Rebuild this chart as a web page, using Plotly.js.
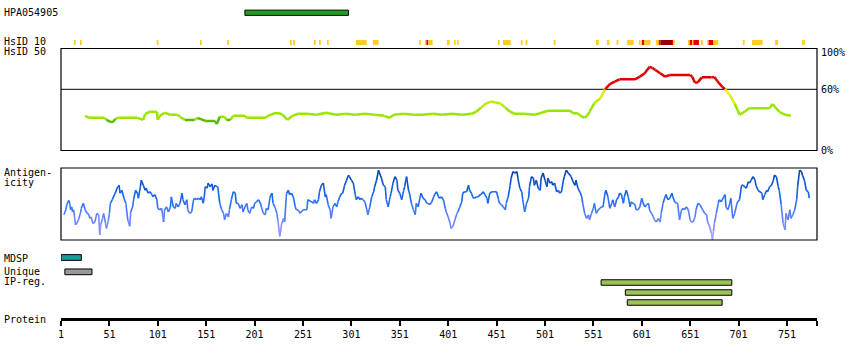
<!DOCTYPE html>
<html><head><meta charset="utf-8">
<script src="https://cdn.plot.ly/plotly-3.0.1.min.js"></script>
<style>html,body{margin:0;padding:0;background:#fff}#chart{width:850px;height:360px}</style>
</head><body><div id="chart"></div>
<script>
// ---------------- data ----------------
const proteinLength = 782;
const tickResidues = [1,51,101,151,201,251,301,351,401,451,501,551,601,651,701,751];

const hpaName = ['HPA054905'];
const hpaStart = [191];
const hpaEnd = [298];

const hsid10Start = [14.4,20.6,100,144.6,172.5,237.6,240.7,262.4,267.5,275.8,
  305.7,323.3,370.8,377,378.5,380.5,399.7,406.9,410,452.4,
  457.6,476,481,510,553.7,565,575,585.7,598,601,
  603.6,615.6,618.5,620.5,632.2,633.5,648.7,650.5,653.2,654.3,
  662,668.5,670,675,705.5,714.8,738.7,766.5];
const hsid10End = [16.2,22.4,101.8,146.4,174.3,239.4,242.5,264.2,269.3,277.6,
  316.8,329.2,372.6,378.5,380.5,385,402.5,408.7,411.8,454.2,
  465.6,477.8,482.9,511.8,556.5,567.6,576.8,592.6,599.8,603.6,
  610,618.5,620.5,632.2,633.5,635.2,650.5,653.2,654.3,660,
  664,670,675,680,707.3,725.9,741.8,769.3];
const hsid10Level = [1,1,1,1,1,1,1,1,1,1,
  1,1,1,1,2,1,1,1,1,1,
  1,1,1,1,1,1,1,1,1,2,
  1,1,2,3,2,1,1,2,1,2,
  1,1,2,1,1,1,1,1];

const hsid50Residue = [26,30,41,46,48,52,55,57,60,67,
  80,86,88,93,100,101,103,108,114,121,
  124,129,139,142,150,160,162,165,170,172,
  176,179,191,193,212,215,221,227,230,235,
  240,246,255,265,275,285,295,305,315,325,
  335,340,345,355,365,375,385,395,405,415,
  425,430,435,440,445,450,455,460,465,470,
  480,490,496,504,527,530,535,537,542,545,
  547,552,558,563,568,573,578,594,599,604,
  609,612,615,620,625,630,651,653,656,659,
  663,673,676,679,684,687,692,697,702,707,
  712,733,736,743,749,755];
const hsid50Value = [34,32,32,32,30,28,28,31,32,32,
  32,30,36,38,38,30,34,37,35,35,
  33,30,30,32,29,29,26,33,33,30,
  30,34,34,32,32,34,36.5,36.5,35,30,
  34,36,36,35,37,35,36,35,36,35,
  34,32,35,36,35,35,36,35,36,35,
  36,38,42,46,48,47,46,42,38,36,
  36,35,36.5,39,39,36.5,36.5,34.5,32,34.5,
  38,46.5,51,60,65,67.5,69.8,69.8,72.4,75.7,
  82,81,79,75.7,72.4,74,74,72.4,66.5,67,
  71.7,71.7,72,68,62.5,60,54.4,46,35,38,
  41.4,41.4,45.6,38,35,34];

const antigenResidue = [4,6,7,9,10,11,12,13,14,15,
  16,18,19,21,22,24,26,28,29,31,
  32,34,36,38,40,41,42,44,45,47,
  48,50,51,52,54,57,59,61,62,64,
  66,68,70,72,73,75,76,78,80,81,
  83,84,86,88,89,91,93,95,96,98,
  100,101,103,105,107,108,110,112,114,115,
  117,119,120,122,124,126,127,129,131,132,
  134,136,138,139,141,143,145,146,148,149,
  150,152,153,155,157,158,160,162,163,165,
  167,169,170,172,174,175,177,179,181,182,
  184,186,188,189,191,193,194,196,198,200,
  201,203,205,207,208,210,212,213,215,217,
  219,220,222,224,225,227,229,231,232,234,
  236,237,239,241,243,244,246,248,251,255,
  256,260,262,263,265,267,268,270,272,274,
  275,277,279,280,282,284,286,287,289,291,
  292,294,296,298,299,301,303,305,306,308,
  310,311,313,315,317,318,320,322,324,325,
  327,329,330,332,334,336,337,339,341,342,
  344,346,348,349,351,353,355,356,358,360,
  361,363,365,367,368,370,372,373,375,377,
  379,380,382,384,386,387,389,391,392,394,
  396,398,399,401,403,404,406,408,410,411,
  413,415,416,418,420,422,423,425,427,428,
  430,432,434,435,437,439,441,442,444,446,
  447,449,451,453,454,456,458,460,461,463,
  465,466,468,470,472,473,475,477,478,480,
  482,484,485,487,489,490,492,494,496,497,
  499,501,503,504,506,508,509,511,513,515,
  516,518,520,521,523,525,527,528,530,532,
  533,535,537,539,540,542,544,546,547,549,
  551,552,554,556,558,559,561,563,564,566,
  568,570,571,573,575,577,578,580,582,583,
  585,587,589,590,592,594,595,597,599,601,
  602,604,606,608,609,611,613,614,616,618,
  620,621,623,625,626,628,630,632,633,635,
  637,638,640,642,644,645,647,649,651,652,
  654,656,657,659,661,663,664,666,668,669,
  671,673,674,675,676,678,680,681,683,685,
  687,688,690,692,693,695,697,699,700,702,
  704,706,707,709,711,712,714,716,718,719,
  721,723,725,726,728,730,731,733,735,737,
  738,740,742,743,745,747,749,750,752,754,
  755,757,759,761,762,764,766,767,769,771,
  773,774];
const antigenValue = [35,42,49,55,51,42,46,39,42,32,
  21,25,28,37,44,51,42,37,37,30,
  32,23,25,37,35,7,21,30,37,23,
  16,28,37,51,56,65,72,76,65,69,
  58,51,28,19,39,46,56,69,65,58,
  74,83,76,69,72,65,67,63,60,63,
  56,44,42,44,25,42,46,39,46,60,
  46,44,51,46,51,65,56,49,56,42,
  37,39,56,58,56,58,56,60,51,60,
  74,72,79,74,78,69,76,74,74,51,
  42,37,28,37,32,42,56,67,65,51,
  51,44,49,39,46,51,42,37,46,44,
  51,53,56,51,46,37,35,44,42,60,
  65,51,46,37,28,5,23,30,25,65,
  69,63,65,60,46,42,42,37,42,42,
  56,53,51,56,51,56,67,76,79,60,
  63,49,42,30,46,51,46,53,60,65,
  65,76,83,90,88,83,79,63,56,60,
  56,58,56,53,42,35,46,60,67,74,
  83,97,93,86,76,74,56,46,60,65,
  79,88,83,69,65,56,69,74,88,69,
  65,51,42,35,51,46,60,65,58,56,
  51,51,49,53,60,63,67,60,58,60,
  56,44,39,32,23,16,19,28,37,39,
  46,53,65,67,67,76,69,65,58,58,
  60,60,63,63,67,63,58,51,65,67,
  67,67,67,56,51,49,46,42,51,60,
  76,86,95,93,95,86,72,67,56,39,
  51,58,74,88,86,76,83,72,69,86,
  93,83,74,86,79,81,76,79,67,69,
  65,67,83,88,97,93,90,88,81,76,
  83,72,67,60,51,37,30,35,28,37,
  44,51,37,42,44,46,46,65,69,60,
  44,51,56,46,56,60,65,63,51,60,
  69,60,46,53,51,49,42,42,46,58,
  53,46,49,51,42,37,32,28,25,30,
  25,37,51,60,63,56,58,65,60,53,
  51,51,28,42,44,42,46,42,28,25,
  25,32,42,51,49,44,42,37,35,25,
  19,9,0,12,23,37,51,56,53,58,
  63,46,42,51,58,30,37,49,53,56,
  76,76,74,72,81,79,83,88,83,76,
  69,67,65,56,63,69,67,74,76,83,
  90,88,74,69,49,23,14,37,28,42,
  30,35,42,56,74,97,95,90,83,69,
  67,58];

const featureName = ['MDSP','Unique IP-reg.'];
const featureStart = [1,5];
const featureEnd = [22,33];

const peptideStart = [559,584,586];
const peptideEnd = [694,694,684];

// ---------------- styling ----------------
const FONT = 'DejaVu Sans Mono';
const H = 360, L = 61, R = 817;
const py = p => 1 - p / H;           // pixel row -> paper fraction
const px = p => (p - L) / (R - L);   // pixel col -> paper fraction

function hsidColor(v){
  if (v >= 61) return '#e00000';
  if (v >= 56) return '#f2f200';
  if (v >= 50) return '#dcf000';
  if (v >= 44) return '#bdec00';
  if (v > 30.5) return '#9be600';
  return '#5cb800';
}
const agStops = [[0,[176,168,255]],[20,[130,138,255]],[40,[74,122,255]],[60,[24,104,240]],[80,[10,82,205]],[100,[0,58,150]]];
function agColor(v){
  const b = Math.round(v/5)*5;
  for (let i=0;i<agStops.length-1;i++){
    const [a,ca]=agStops[i],[c,cc]=agStops[i+1];
    if (b>=a && b<=c){
      const t=(b-a)/(c-a);
      const col=ca.map((x,k)=>Math.round(x+(cc[k]-x)*t));
      return 'rgb('+col.join(',')+')';
    }
  }
  return 'rgb(0,58,150)';
}
function coloredLine(xs, ys, colorFn, yaxis, width){
  const groups = {};
  for (let i=0;i<xs.length-1;i++){
    const c = colorFn((ys[i]+ys[i+1])/2);
    if(!groups[c]) groups[c]={x:[],y:[]};
    groups[c].x.push(xs[i],xs[i+1],null);
    groups[c].y.push(ys[i],ys[i+1],null);
  }
  return Object.keys(groups).map(c=>({type:'scatter',mode:'lines',x:groups[c].x,y:groups[c].y,
    yaxis:yaxis,line:{color:c,width:width},hoverinfo:'skip',showlegend:false,connectgaps:false}));
}

const levelColor = {1:'#ffcc22',2:'#e00000',3:'#990000'};

const traces = [];
traces.push({type:'bar',orientation:'h',yaxis:'y3',y:hpaName.map((_,i)=>i),
  base:hpaStart,x:hpaEnd.map((e,i)=>e-hpaStart[i]),width:0.55,
  marker:{color:'#1f9e1f',line:{color:'#000',width:1}},hoverinfo:'skip'});
traces.push({type:'bar',orientation:'h',yaxis:'y4',y:hsid10Start.map(()=>0),
  base:hsid10Start,x:hsid10End.map((e,i)=>e-hsid10Start[i]),width:1,
  marker:{color:hsid10Level.map(l=>levelColor[l]),line:{width:0}},hoverinfo:'skip'});
traces.push(...coloredLine(hsid50Residue,hsid50Value,hsidColor,'y',2.5));
traces.push(...coloredLine(antigenResidue,antigenValue,agColor,'y2',1.6));
traces.push({type:'bar',orientation:'h',yaxis:'y5',y:featureName.map((_,i)=>i),
  base:featureStart,x:featureEnd.map((e,i)=>e-featureStart[i]),width:0.4,
  marker:{color:['#1a9a9a','#999999'],line:{color:'#000',width:1}},hoverinfo:'skip'});
traces.push({type:'bar',orientation:'h',yaxis:'y6',y:peptideStart.map((_,i)=>i),
  base:peptideStart,x:peptideEnd.map((e,i)=>e-peptideStart[i]),width:0.55,
  marker:{color:'#9bc35a',line:{color:'#000',width:1}},hoverinfo:'skip'});

const hidden = {visible:false,fixedrange:true,showgrid:false,zeroline:false};
const layout = {
  width:850,height:360,margin:{l:L,r:850-R,t:0,b:0,pad:0},
  paper_bgcolor:'#fff',plot_bgcolor:'rgba(0,0,0,0)',showlegend:false,barmode:'overlay',
  font:{family:FONT,size:10,color:'#000'},
  xaxis:{range:[1,proteinLength],anchor:'free',position:py(319),showline:true,linewidth:3,linecolor:'#000',
    ticks:'outside',ticklen:5,tickwidth:2,tickcolor:'#000',
    tickvals:tickResidues.concat([proteinLength]),ticktext:tickResidues.map(String).concat(['']),
    showgrid:false,zeroline:false,tickfont:{family:FONT,size:10,color:'#000'},fixedrange:true},
  yaxis:Object.assign({domain:[py(150.5),py(48.5)],range:[0,100],anchor:'x'},hidden),
  yaxis2:Object.assign({domain:[py(240),py(168)],range:[0,100],anchor:'x'},hidden),
  yaxis3:Object.assign({domain:[py(17.5),py(8)],range:[0.5,-0.5],anchor:'x'},hidden),
  yaxis4:Object.assign({domain:[py(45),py(40)],range:[0.5,-0.5],anchor:'x'},hidden),
  yaxis5:Object.assign({domain:[py(279),py(250.3)],range:[1.5,-0.5],anchor:'x'},hidden),
  yaxis6:Object.assign({domain:[py(307.5),py(277.5)],range:[2.5,-0.5],anchor:'x'},hidden),
  shapes:[
    {type:'line',xref:'x domain',yref:'y',x0:0,x1:1,y0:60,y1:60,line:{color:'#000',width:1},layer:'below'},
    {type:'rect',xref:'x domain',yref:'y domain',x0:0,x1:1,y0:0,y1:1,line:{color:'#000',width:1.2}},
    {type:'rect',xref:'x domain',yref:'y2 domain',x0:0,x1:1,y0:0,y1:1,line:{color:'#000',width:1.2}}
  ],
  annotations:[]
};
const leftLabels = [['HPA054905',12.5],['HsID 10',41.8],['HsID 50',52],['Antigen-',172.8],['icity',182.5],
  ['MDSP',258],['Unique',271.5],['IP-reg.',281.5],['Protein',319]];
leftLabels.forEach(([t,y])=>layout.annotations.push({text:t,xref:'paper',yref:'paper',x:px(1.5),y:py(y),
  xanchor:'left',yanchor:'middle',showarrow:false,font:{family:FONT,size:10,color:'#000'}}));
[[100,'100%',-4],[60,'60%',0],[0,'0%',0]].forEach(([v,t,s])=>layout.annotations.push({text:t,xref:'paper',yref:'y',
  x:px(818.5),y:v,yshift:s,xanchor:'left',yanchor:'middle',showarrow:false,font:{family:FONT,size:10,color:'#000'}}));

Plotly.newPlot('chart',traces,layout,{staticPlot:true,displayModeBar:false});
</script></body></html>
